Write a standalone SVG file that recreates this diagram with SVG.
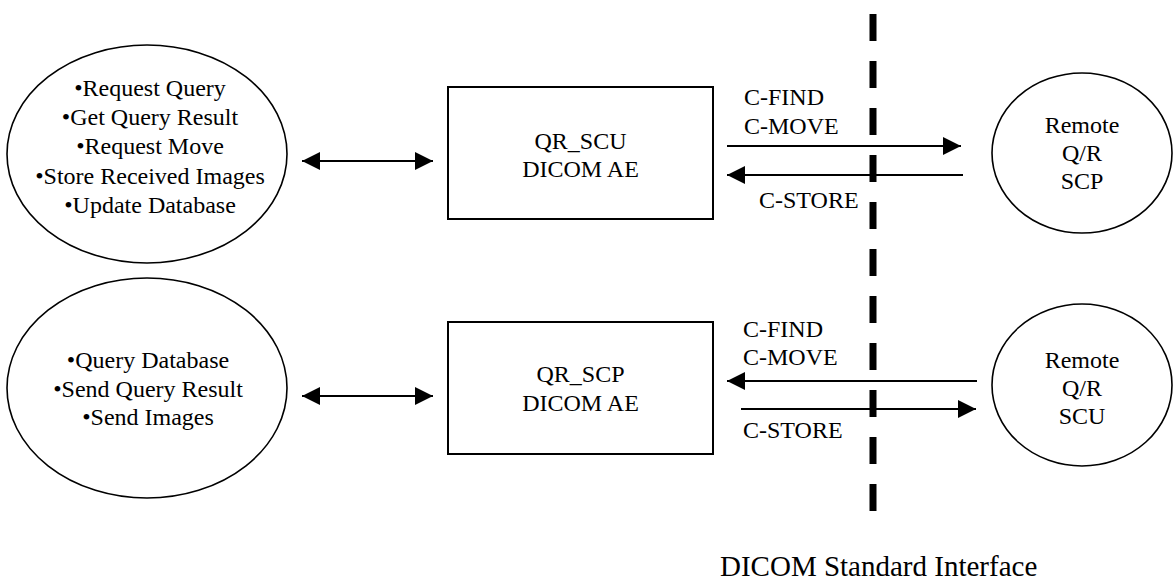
<svg xmlns="http://www.w3.org/2000/svg" width="1173" height="580" viewBox="0 0 1173 580">
<defs>
<style>
text{font-family:"Liberation Serif","Times New Roman",serif;font-size:24px;fill:#000}
.c{text-anchor:middle}
.ell{fill:#fff;stroke:#000;stroke-width:1.6}
.box{fill:#fff;stroke:#000;stroke-width:2}
.ln{stroke:#000;stroke-width:2;fill:none}
</style>
<marker id="ah" markerUnits="userSpaceOnUse" markerWidth="18" markerHeight="18" viewBox="0 0 18 18" refX="18" refY="9" orient="auto-start-reverse">
<path d="M0,0 L18,9 L0,18 Z" fill="#000"/>
</marker>
</defs>
<rect width="1173" height="580" fill="#fff"/>

<g id="local-scu-functions">
<ellipse class="ell" cx="147" cy="154" rx="140" ry="109"/>
<text class="c" x="150" y="96">•Request Query</text>
<text class="c" x="150" y="125">•Get Query Result</text>
<text class="c" x="150" y="154">•Request Move</text>
<text class="c" x="150" y="184">•Store Received Images</text>
<text class="c" x="150" y="213">•Update Database</text>
</g>

<g id="local-scp-functions">
<ellipse class="ell" cx="147" cy="388" rx="140" ry="110"/>
<text class="c" x="148" y="368">•Query Database</text>
<text class="c" x="148" y="397">•Send Query Result</text>
<text class="c" x="148" y="425">•Send Images</text>
</g>

<g id="qr-scu">
<rect class="box" x="448" y="87" width="265" height="132"/>
<text class="c" x="580.5" y="149">QR_SCU</text>
<text class="c" x="580.5" y="177">DICOM AE</text>
</g>

<g id="qr-scp">
<rect class="box" x="448" y="322" width="265" height="132"/>
<text class="c" x="580.5" y="382">QR_SCP</text>
<text class="c" x="580.5" y="411">DICOM AE</text>
</g>

<g id="remote-scp">
<ellipse class="ell" cx="1082" cy="153" rx="90" ry="80"/>
<text class="c" x="1082" y="133">Remote</text>
<text class="c" x="1082" y="161">Q/R</text>
<text class="c" x="1082" y="189">SCP</text>
</g>

<g id="remote-scu">
<ellipse class="ell" cx="1082" cy="385" rx="90" ry="81"/>
<text class="c" x="1082" y="368">Remote</text>
<text class="c" x="1082" y="396">Q/R</text>
<text class="c" x="1082" y="424">SCU</text>
</g>

<g id="interface">
<line x1="873" y1="14" x2="873" y2="511" stroke="#000" stroke-width="7" stroke-dasharray="27 20"/>
<text x="720" y="576" style="font-size:29px">DICOM Standard Interface</text>
</g>

<g id="connectors">
<line class="ln" x1="302" y1="161" x2="433" y2="161" marker-start="url(#ah)" marker-end="url(#ah)"/>
<line class="ln" x1="302" y1="396" x2="433" y2="396" marker-start="url(#ah)" marker-end="url(#ah)"/>
<line class="ln" x1="727" y1="146" x2="961" y2="146" marker-end="url(#ah)"/>
<line class="ln" x1="963" y1="175" x2="727" y2="175" marker-end="url(#ah)"/>
<line class="ln" x1="977" y1="381" x2="727" y2="381" marker-end="url(#ah)"/>
<line class="ln" x1="741" y1="409" x2="976" y2="409" marker-end="url(#ah)"/>
<text x="744" y="105">C-FIND</text>
<text x="744" y="134">C-MOVE</text>
<text x="759" y="208">C-STORE</text>
<text x="743" y="337">C-FIND</text>
<text x="743" y="365">C-MOVE</text>
<text x="743" y="438">C-STORE</text>
</g>
</svg>
